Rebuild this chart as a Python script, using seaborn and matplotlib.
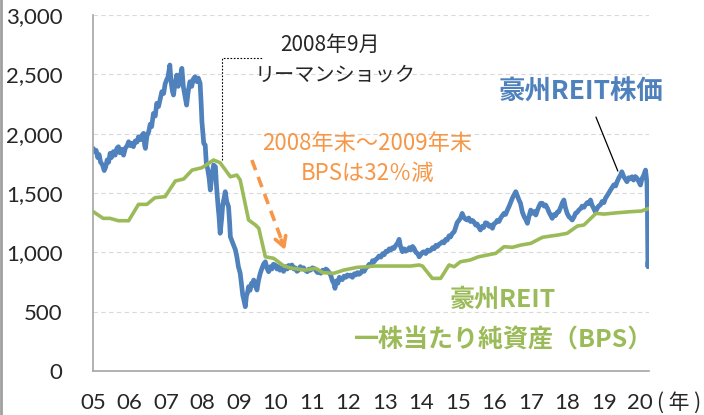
import matplotlib
matplotlib.use("Agg")
import matplotlib.pyplot as plt
from matplotlib.lines import Line2D
import seaborn as sns
import pandas as pd

BLUE = "#4F81BD"
GREEN = "#9BBB59"
ORANGE = "#F79646"
GRAY = "#A6A6A6"

# 豪州REIT株価
price_year = [
    2005.00, 2005.04, 2005.08, 2005.12, 2005.16, 2005.20, 2005.25, 2005.30, 2005.34, 2005.38,
    2005.42, 2005.46, 2005.50, 2005.55, 2005.60, 2005.65, 2005.69, 2005.73, 2005.78, 2005.83,
    2005.88, 2005.93, 2005.97, 2006.02, 2006.06, 2006.10, 2006.15, 2006.20, 2006.24, 2006.30,
    2006.34, 2006.38, 2006.41, 2006.43, 2006.47, 2006.52, 2006.56, 2006.60, 2006.65, 2006.70,
    2006.74, 2006.79, 2006.84, 2006.88, 2006.93, 2006.97, 2007.01, 2007.05, 2007.10, 2007.13,
    2007.17, 2007.20, 2007.24, 2007.29, 2007.33, 2007.38, 2007.43, 2007.47, 2007.51, 2007.56,
    2007.60, 2007.65, 2007.70, 2007.74, 2007.79, 2007.84, 2007.88, 2007.93, 2007.96, 2007.98,
    2008.03, 2008.07, 2008.10, 2008.14, 2008.18, 2008.21, 2008.25, 2008.30, 2008.35, 2008.38,
    2008.42, 2008.45, 2008.48, 2008.52, 2008.55, 2008.59, 2008.62, 2008.66, 2008.71, 2008.74,
    2008.76, 2008.80, 2008.85, 2008.90, 2008.94, 2008.98, 2009.03, 2009.07, 2009.10, 2009.13,
    2009.17, 2009.20, 2009.23, 2009.26, 2009.30, 2009.34, 2009.37, 2009.40, 2009.45, 2009.49,
    2009.53, 2009.58, 2009.62, 2009.67, 2009.72, 2009.76, 2009.81, 2009.86, 2009.90, 2009.94,
    2009.99, 2010.04, 2010.08, 2010.12, 2010.17, 2010.22, 2010.27, 2010.32, 2010.36, 2010.41,
    2010.45, 2010.50, 2010.54, 2010.59, 2010.63, 2010.68, 2010.72, 2010.77, 2010.81, 2010.87,
    2010.92, 2010.96, 2011.01, 2011.05, 2011.10, 2011.15, 2011.20, 2011.24, 2011.29, 2011.33,
    2011.38, 2011.42, 2011.47, 2011.51, 2011.56, 2011.60, 2011.63, 2011.67, 2011.71, 2011.75,
    2011.78, 2011.83, 2011.88, 2011.93, 2011.97, 2012.02, 2012.06, 2012.11, 2012.16, 2012.20,
    2012.25, 2012.29, 2012.33, 2012.38, 2012.43, 2012.48, 2012.52, 2012.57, 2012.62, 2012.66,
    2012.70, 2012.75, 2012.79, 2012.84, 2012.89, 2012.94, 2012.98, 2013.03, 2013.07, 2013.12,
    2013.16, 2013.21, 2013.25, 2013.30, 2013.35, 2013.39, 2013.42, 2013.45, 2013.48, 2013.53,
    2013.57, 2013.62, 2013.67, 2013.71, 2013.76, 2013.80, 2013.85, 2013.90, 2013.94, 2013.98,
    2014.03, 2014.07, 2014.12, 2014.17, 2014.21, 2014.26, 2014.31, 2014.35, 2014.40, 2014.44,
    2014.49, 2014.53, 2014.58, 2014.62, 2014.67, 2014.71, 2014.76, 2014.80, 2014.85, 2014.90,
    2014.94, 2014.98, 2015.03, 2015.07, 2015.12, 2015.16, 2015.21, 2015.26, 2015.30, 2015.35,
    2015.40, 2015.44, 2015.49, 2015.53, 2015.58, 2015.62, 2015.67, 2015.71, 2015.76, 2015.81,
    2015.86, 2015.90, 2015.95, 2015.99, 2016.04, 2016.08, 2016.13, 2016.17, 2016.22, 2016.27,
    2016.31, 2016.36, 2016.41, 2016.46, 2016.50, 2016.55, 2016.59, 2016.63, 2016.68, 2016.72,
    2016.77, 2016.82, 2016.86, 2016.91, 2016.95, 2017.00, 2017.05, 2017.10, 2017.14, 2017.19,
    2017.23, 2017.27, 2017.32, 2017.37, 2017.41, 2017.46, 2017.50, 2017.55, 2017.59, 2017.64,
    2017.68, 2017.73, 2017.77, 2017.82, 2017.87, 2017.91, 2017.95, 2018.00, 2018.05, 2018.09,
    2018.14, 2018.19, 2018.23, 2018.28, 2018.32, 2018.37, 2018.41, 2018.46, 2018.50, 2018.55,
    2018.59, 2018.64, 2018.68, 2018.73, 2018.77, 2018.82, 2018.86, 2018.91, 2018.96, 2019.01,
    2019.05, 2019.10, 2019.14, 2019.19, 2019.24, 2019.28, 2019.33, 2019.37, 2019.42, 2019.46,
    2019.50, 2019.55, 2019.59, 2019.64, 2019.69, 2019.73, 2019.78, 2019.82, 2019.87, 2019.92,
    2019.96, 2020.01, 2020.05, 2020.10, 2020.15, 2020.17, 2020.19, 2020.20, 2020.205, 2020.21,
    2020.215, 2020.22,
]
price_value = [
    1877, 1850, 1860, 1800, 1825, 1760, 1740, 1690, 1720, 1780,
    1760, 1835, 1800, 1850, 1820, 1880, 1891, 1840, 1870, 1820,
    1880, 1900, 1933, 1900, 1920, 1891, 1940, 1930, 1975, 1950,
    1990, 2004, 1900, 1877, 1980, 2017, 2080, 2060, 2172, 2150,
    2257, 2230, 2300, 2355, 2340, 2420, 2453, 2480, 2580, 2450,
    2360, 2327, 2420, 2495, 2400, 2470, 2552, 2397, 2330, 2242,
    2350, 2439, 2400, 2460, 2481, 2440, 2470, 2425, 2250, 2102,
    1919, 1905, 1750, 1700, 1620, 1526, 1640, 1737, 1722, 1560,
    1400, 1300, 1161, 1280, 1400, 1460, 1512, 1430, 1385, 1250,
    1132, 1100, 1060, 1020, 960, 880, 824, 720, 640, 600,
    542, 630, 660, 711, 680, 740, 720, 767, 730, 683,
    760, 824, 860, 900, 921, 870, 837, 880, 860, 900,
    894, 860, 880, 850, 866, 840, 880, 860, 890, 870,
    894, 860, 870, 840, 851, 880, 860, 870, 851, 837,
    860, 850, 870, 866, 850, 830, 840, 824, 850, 840,
    860, 851, 830, 810, 760, 739, 697, 760, 740, 790,
    781, 770, 800, 790, 810, 800, 809, 790, 820, 810,
    830, 815, 824, 850, 840, 870, 879, 900, 890, 930,
    920, 940, 950, 970, 960, 990, 980, 1010, 1006, 1030,
    1020, 1040, 1034, 1060, 1080, 1110, 1060, 1030, 1006, 1030,
    1010, 1020, 1040, 1020, 1050, 1034, 1000, 990, 963, 980,
    1000, 1006, 990, 1020, 1010, 1020, 1040, 1030, 1060, 1050,
    1070, 1076, 1090, 1080, 1110, 1104, 1140, 1130, 1160, 1174,
    1210, 1250, 1270, 1287, 1329, 1300, 1280, 1273, 1290, 1260,
    1270, 1258, 1230, 1240, 1210, 1189, 1220, 1210, 1250, 1245,
    1220, 1230, 1203, 1240, 1250, 1270, 1260, 1287, 1310, 1330,
    1320, 1357, 1390, 1430, 1460, 1490, 1512, 1480, 1440, 1414,
    1340, 1301, 1280, 1245, 1300, 1357, 1330, 1345, 1315, 1360,
    1390, 1414, 1414, 1390, 1400, 1371, 1340, 1310, 1287, 1320,
    1310, 1340, 1343, 1380, 1420, 1442, 1380, 1329, 1300, 1290,
    1273, 1300, 1330, 1340, 1357, 1370, 1390, 1380, 1400, 1420,
    1410, 1442, 1400, 1370, 1343, 1370, 1390, 1400, 1430, 1420,
    1456, 1480, 1500, 1526, 1550, 1570, 1560, 1596, 1630, 1650,
    1680, 1640, 1620, 1596, 1630, 1620, 1638, 1610, 1640, 1624,
    1600, 1568, 1620, 1650, 1694, 1640, 1582, 1400, 1189, 1000,
    879, 920,
]

# 豪州REIT 一株当たり純資産 (BPS)
bps_year = [
    2005.00, 2005.27, 2005.46, 2005.69, 2005.97, 2006.24, 2006.47, 2006.69, 2006.97, 2007.25,
    2007.48, 2007.71, 2007.98, 2008.30, 2008.48, 2008.76, 2008.94, 2009.03, 2009.26, 2009.45,
    2009.54, 2009.72, 2009.95, 2010.23, 2010.45, 2010.82, 2011.10, 2011.30, 2011.60, 2011.87,
    2012.24, 2012.52, 2012.70, 2013.71, 2013.94, 2014.03, 2014.30, 2014.53, 2014.76, 2014.90,
    2015.07, 2015.34, 2015.57, 2015.81, 2016.04, 2016.27, 2016.50, 2016.73, 2017.00, 2017.32,
    2017.55, 2017.74, 2018.00, 2018.28, 2018.46, 2018.79, 2019.01, 2019.37, 2019.73, 2020.04,
    2020.24,
]
bps_value = [
    1343, 1287, 1287, 1267, 1267, 1405, 1405, 1461, 1470, 1602,
    1619, 1694, 1714, 1779, 1756, 1638, 1652, 1610, 1273, 1231,
    1203, 963, 950, 885, 866, 851, 866, 829, 824, 851,
    874, 879, 885, 885, 894, 885, 781, 781, 894, 879,
    921, 936, 963, 978, 992, 1048, 1043, 1062, 1076, 1127,
    1138, 1146, 1161, 1222, 1231, 1329, 1323, 1334, 1343, 1349,
    1371,
]

year_ticks = list(range(2005, 2021))
year_labels = [f"{y % 100:02d}" for y in year_ticks]
value_ticks = [0, 500, 1000, 1500, 2000, 2500, 3000]

sns.set_style("white")
plt.rcParams["font.family"] = ["Lato", "Noto Sans CJK JP"]
JP = ["Noto Sans CJK JP", "DejaVu Sans"]

price = pd.DataFrame({"year": price_year, "value": price_value})
bps = pd.DataFrame({"year": bps_year, "value": bps_value})

fig = plt.figure(figsize=(7.04, 4.15), dpi=100)
ax = fig.add_axes([93.3 / 704, 1 - 371 / 415, (649 - 93.3) / 704, (371 - 15.2) / 415])

ax.grid(axis="y", color="#D9D9D9", linestyle=(0, (4, 3)), linewidth=0.8)
ax.set_axisbelow(True)

sns.lineplot(data=bps, x="year", y="value", ax=ax, color=GREEN, lw=2.6,
             estimator=None, sort=False, zorder=3)
sns.lineplot(data=price, x="year", y="value", ax=ax, color=BLUE, lw=3.4,
             estimator=None, sort=False, zorder=2)

ax.set_xlim(2005, 2020.245)
ax.set_ylim(0, 3000)
ax.set_xticks(year_ticks)
ax.set_xticklabels(year_labels)
ax.set_yticks(value_ticks)
ax.set_yticklabels([f"{v:,}" for v in value_ticks])
ax.set_xlabel("")
ax.set_ylabel("")

for s in ["top", "right"]:
    ax.spines[s].set_visible(False)
for s in ["left", "bottom"]:
    ax.spines[s].set_color(GRAY)
    ax.spines[s].set_linewidth(1.2)
ax.tick_params(axis="y", length=6, width=1, color=GRAY, pad=16, labelsize=16)
ax.tick_params(axis="x", length=6, width=1, color=GRAY, pad=10, labelsize=16)

fig.text(657 / 704, 1 - 403 / 415, "( 年 )", fontsize=15, family=JP, va="center", ha="left")

# リーマンショック annotation
ax.plot([2008.54, 2008.54, 2009.64], [1779, 2641, 2641], color="black", lw=0.8,
        linestyle=(0, (1.5, 1.5)), zorder=4)
ax.text(2011.49, 2748, "2008年9月", fontsize=15, family=JP, ha="center", va="center")
ax.text(2011.63, 2495, "リーマンショック", fontsize=14.5, family=JP, ha="center", va="center")

# orange note + dashed arrow
ax.text(2012.52, 1922, "2008年末～2009年末", fontsize=16, family=JP, color=ORANGE,
        ha="center", va="center")
ax.text(2012.52, 1669, "BPSは32％減", fontsize=16, family=JP, color=ORANGE,
        ha="center", va="center")
ax.plot([2009.35, 2010.22], [1779, 1060], color=ORANGE, lw=2.6, linestyle=(0, (3, 2)), zorder=4)
ax.annotate("", xy=(2010.26, 1020), xytext=(2010.16, 1105),
            arrowprops=dict(arrowstyle="->,head_length=0.7,head_width=0.4", color=ORANGE,
                            lw=2.6, shrinkA=0, shrinkB=0), zorder=4)

# series labels
ax.text(2018.38, 2352, "豪州REIT株価", fontsize=19, family=JP, fontweight="bold",
        color=BLUE, ha="center", va="center")
ax.plot([2018.79, 2019.39], [2141, 1686], color="black", lw=0.9, zorder=4)
ax.text(2016.24, 599, "豪州REIT", fontsize=18, family=JP, fontweight="bold",
        color=GREEN, ha="center", va="center")
ax.text(2016.24, 261, "一株当たり純資産（BPS）", fontsize=18, family=JP, fontweight="bold",
        color=GREEN, ha="center", va="center")

fig.add_artist(Line2D([0.002, 0.002], [0, 1], color="#A0A0A0", lw=2))

fig.savefig("out.png", dpi=100)
